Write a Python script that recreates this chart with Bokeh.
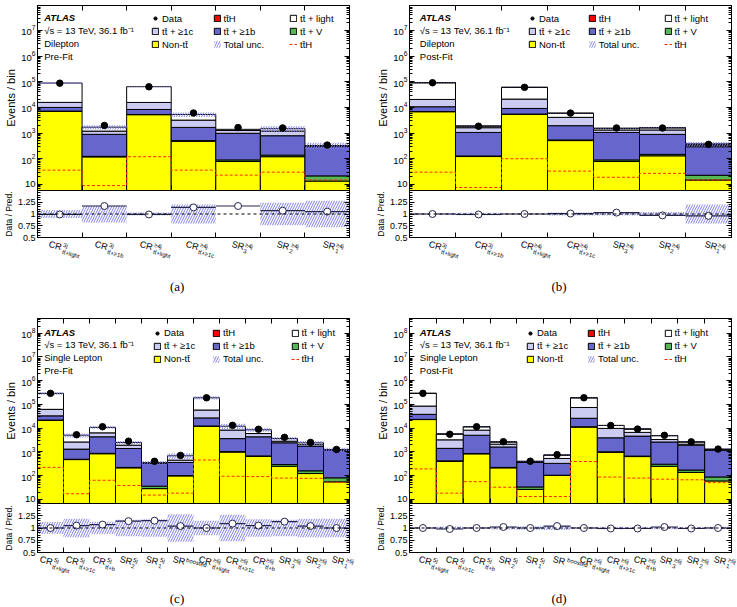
import math
from bokeh.plotting import figure
from bokeh.layouts import row, column
from bokeh.models import (FixedTicker, LogAxis, LinearAxis, Label, Legend, LegendItem, Div,
                          CustomJSTickFormatter, LogTickFormatter, Range1d, Span)
from bokeh.embed import file_html
from bokeh.resources import INLINE

FONT = "Liberation Sans"
TT = "tt\u0304"

# ---------------- region names (main text, superscript, subscript) ----------------
DL_REGIONS = [("CR", "3j", TT + "+light"), ("CR", "3j", TT + "+\u22651b"),
              ("CR", "\u22654j", TT + "+light"), ("CR", "\u22654j", TT + "+\u22651c"),
              ("SR", "\u22654j", "3"), ("SR", "\u22654j", "2"), ("SR", "\u22654j", "1")]
SL_REGIONS = [("CR", "5j", TT + "+light"), ("CR", "5j", TT + "+\u22651c"), ("CR", "5j", TT + "+b"),
              ("SR", "5j", "2"), ("SR", "5j", "1"), ("SR", "boosted", ""),
              ("CR", "\u22656j", TT + "+light"), ("CR", "\u22656j", TT + "+\u22651c"),
              ("CR", "\u22656j", TT + "+b"), ("SR", "\u22656j", "3"), ("SR", "\u22656j", "2"),
              ("SR", "\u22656j", "1")]

# ---------------- dilepton, pre-fit ----------------
dl_pre_nontt = [7100, 118, 5200, 480, 78, 120, 13.5]
dl_pre_ttv = [80, 6, 100, 30, 12, 18, 8]
dl_pre_tt1b = [2800, 770, 3000, 1150, 890, 650, 275]
dl_pre_tt1c = [5700, 300, 7300, 1540, 280, 410, 20]
dl_pre_ttlight = [73000, 500, 48400, 2100, 140, 280, 8]
dl_pre_tth_line = [36, 9, 120, 36, 23, 30, 15]
dl_pre_data = [87790, 1982, 63360, 6042, 1638, 1581, 341]
dl_pre_unc = [0.085, 0.18, 0.03, 0.20, 0.0, 0.24, 0.28]

# ---------------- dilepton, post-fit ----------------
dl_post_nontt = [6800, 122, 5400, 510, 78, 130, 14.8]
dl_post_ttv = [80, 6, 100, 30, 12, 18, 8]
dl_post_tt1b = [3720, 932, 3600, 1400, 970, 742, 272]
dl_post_tt1c = [9800, 560, 12000, 2160, 260, 430, 45]
dl_post_ttlight = [71000, 240, 39200, 1800, 200, 280, 25]
dl_post_tth = [25, 6, 84, 28, 16, 23, 13]
dl_post_tth_line = [30, 7.6, 100, 33, 19, 27, 15]
dl_post_data = [91400, 1847, 60380, 5987, 1582, 1574, 363]
dl_post_unc = [0.015, 0.025, 0.012, 0.03, 0.03, 0.045, 0.2]

# ---------------- single lepton, pre-fit ----------------
sl_pre_nontt = [21500, 470, 830, 210, 28, 96, 12000, 980, 640, 245, 121, 54]
sl_pre_ttv = [400, 15, 30, 10, 7.5, 4, 300, 40, 30, 45, 37, 26]
sl_pre_tt1b = [11000, 815, 3440, 1160, 290, 255, 14700, 2580, 3630, 2110, 1580, 1100]
sl_pre_tt1c = [29000, 1300, 2000, 520, 15, 90, 31000, 4700, 1600, 400, 310, 50]
sl_pre_ttlight = [230000, 2400, 4400, 560, 6, 235, 132000, 3700, 2600, 800, 350, 30]
sl_pre_tth_line = [220, 17, 63, 38, 15, 18, 450, 93, 90, 78, 76, 52]
sl_pre_data = [291900, 5250, 11450, 2804, 398, 707, 190000, 13080, 8925, 4068, 2494, 1260]
sl_pre_unc = [0.12, 0.19, 0.13, 0.17, 0.18, 0.28, 0.15, 0.27, 0.18, 0.17, 0.19, 0.19]

# ---------------- single lepton, post-fit ----------------
sl_post_nontt = [22900, 400, 820, 210, 26, 100, 11100, 960, 630, 245, 135, 59]
sl_post_ttv = [400, 15, 30, 10, 7, 3, 300, 40, 30, 55, 35, 28]
sl_post_tt1b = [14700, 985, 4150, 1380, 322, 222, 14600, 2900, 3940, 2300, 1730, 1100]
sl_post_tt1c = [47000, 1800, 3200, 500, 20, 200, 48000, 5800, 2000, 700, 200, 45]
sl_post_ttlight = [207000, 2400, 3200, 500, 15, 195, 116000, 3200, 2500, 1500, 500, 28]
sl_post_tth = [160, 15, 46, 27, 11, 11, 330, 72, 65, 59, 55, 42]
sl_post_tth_line = [190, 18, 55, 32, 13, 13, 390, 86, 78, 70, 66, 50]
sl_post_data = [292200, 5503, 11450, 2680, 401, 760, 190300, 12840, 9073, 4956, 2628, 1302]
sl_post_unc = [0.02, 0.03, 0.02, 0.03, 0.035, 0.04, 0.02, 0.025, 0.02, 0.025, 0.02, 0.025]

C_NONTT = "#FFFF00"
C_TTV = "#55B855"
C_TT1B = "#6666CC"
C_TT1C = "#CCCCF2"
C_LIGHT = "#FFFFFF"
C_TTH = "#FF0000"
C_HATCH = "#7E7EE6"
C_RATIO = "#26264D"

CHAR_W = {"C": 0.722, "R": 0.722, "S": 0.667}
RATIO_PAD = 4  # room under the ratio frame for its lowest tick label


def style_axis(ax, labels=True, size="9.5px", minor=True, title_size="11px"):
    ax.axis_line_color = "black"
    ax.major_tick_in = 5
    ax.major_tick_out = 0
    ax.minor_tick_in = 3 if minor else 0
    ax.minor_tick_out = 0
    ax.major_tick_line_color = "black"
    ax.minor_tick_line_color = "black"
    ax.major_label_text_font = FONT
    ax.major_label_text_color = "black"
    ax.axis_label_text_font = FONT
    ax.axis_label_text_font_style = "normal"
    ax.axis_label_text_font_size = title_size
    ax.axis_label_text_color = "black"
    ax.axis_label_standoff = 1
    if labels:
        ax.major_label_text_font_size = size
        ax.major_label_standoff = 2
    else:
        ax.major_label_text_font_size = "0px"
        ax.major_label_standoff = 0
        ax.formatter = CustomJSTickFormatter(code="return ''")


def span_html(x, y, text, size, family=FONT, extra=""):
    return ("<span style=\"position:absolute;left:%.1fpx;top:%.1fpx;font-family:'%s',sans-serif;"
            "font-size:%s;line-height:1;white-space:nowrap;color:black;%s\">%s</span>"
            % (x, y, family, size, extra, text))


def make_panel(regions, nontt, ttv, tt1b, tt1c, ttlight, tth, tth_line, data, unc,
               channel, stage, caption, width, left, right, ratio_h, lab_h,
               yr, text_x, text_rows, leg_cols, leg_rows, cap_x, cap_dy):
    n = len(regions)
    edges = list(range(n + 1))
    lefts, rights = edges[:-1], edges[1:]
    ymin, ymax = yr

    main = figure(width=width, height=190, x_range=Range1d(0, n), y_range=Range1d(ymin, ymax),
                  y_axis_type="log", output_backend="svg", toolbar_location=None,
                  min_border_left=left, min_border_right=right, min_border_top=5, min_border_bottom=0)
    main.xgrid.visible = False
    main.ygrid.visible = False
    main.outline_line_color = "black"
    main.outline_line_alpha = 1

    dec_ticks = [10 ** k for k in range(1, 9)]
    dec_minor = [m * 10 ** k for k in range(0, 9) for m in range(2, 10)]
    main.yaxis.ticker = FixedTicker(ticks=dec_ticks, minor_ticks=dec_minor)
    main.yaxis.formatter = LogTickFormatter(min_exponent=1)
    style_axis(main.yaxis[0])
    main.yaxis.major_label_overrides = {10: "10"}
    main.yaxis.axis_label = "Events / bin"
    main.xaxis.ticker = FixedTicker(ticks=edges, minor_ticks=[])
    style_axis(main.xaxis[0], labels=False, minor=False)
    rax = LogAxis(ticker=FixedTicker(ticks=dec_ticks, minor_ticks=dec_minor))
    style_axis(rax, labels=False)
    main.add_layout(rax, "right")
    tax = LinearAxis(ticker=FixedTicker(ticks=edges, minor_ticks=[]))
    style_axis(tax, labels=False, minor=False)
    main.add_layout(tax, "above")

    # stacked backgrounds, bottom to top
    layers = [(nontt, C_NONTT, "Non-" + TT), (ttv, C_TTV, TT + " + V"),
              (tt1b, C_TT1B, TT + " + \u22651b"), (tt1c, C_TT1C, TT + " + \u22651c"),
              (ttlight, C_LIGHT, TT + " + light")]
    if tth is not None:
        layers.append((tth, C_TTH, TT + "H"))
    floor = ymin * 0.1
    cum = [floor] * n
    rend = {}
    first = True
    for vals, col, name in layers:
        top = [v if first else c + v for c, v in zip(cum, vals)]
        first = False
        r = main.quad(left=lefts, right=rights, bottom=cum, top=top, fill_color=col,
                      line_color="black", line_width=1)
        rend[name] = r
        cum = top
    total = cum
    if tth is None:
        # signal not stacked before the fit: swatch kept below the visible range for the key
        rend[TT + "H"] = main.quad(left=[0], right=[1], bottom=[floor * 0.01], top=[floor * 0.02],
                                   fill_color=C_TTH, line_color="black", line_width=1)

    band = main.quad(left=lefts, right=rights,
                     bottom=[t * (1 - u) for t, u in zip(total, unc)],
                     top=[t * (1 + u) for t, u in zip(total, unc)],
                     fill_alpha=0, line_color=None, hatch_pattern="/", hatch_color=C_HATCH,
                     hatch_scale=5, hatch_weight=1)
    dline = main.step(x=edges, y=list(tth_line) + [tth_line[-1]], mode="after",
                      line_color="#FF2A00", line_dash="3 2", line_width=1)
    centers = [i + 0.5 for i in range(n)]
    main.segment(x0=centers, x1=centers, y0=[d - math.sqrt(d) for d in data],
                 y1=[d + math.sqrt(d) for d in data], line_color="black", line_width=1)
    dots = main.scatter(x=centers, y=data, size=6.5, fill_color="black", line_color="black")

    # text block
    texts = [("ATLAS", "bold italic"), ("\u221As = 13 TeV, 36.1 fb\u207b\u00b9", "normal"),
             (channel, "normal"), (stage, "normal")]
    for (t, style), dy in zip(texts, text_rows):
        main.add_layout(Label(x=0, y=ymax, x_offset=text_x, y_offset=-dy, text=t,
                              text_font=FONT, text_font_size="9.5px", text_font_style=style,
                              text_baseline="middle", text_align="left", text_color="black"))

    # legend, three columns
    columns_items = [
        [("Data", dots), (TT + " + \u22651c", rend[TT + " + \u22651c"]), ("Non-" + TT, rend["Non-" + TT])],
        [(TT + "H", rend[TT + "H"]), (TT + " + \u22651b", rend[TT + " + \u22651b"]), ("Total unc.", band)],
        [(TT + " + light", rend[TT + " + light"]), (TT + " + V", rend[TT + " + V"]), (TT + "H", dline)],
    ]
    item_h, spacing = 12, 1
    leg_h = 3 * item_h + 2 * spacing
    for cx, items in zip(leg_cols, columns_items):
        y_loc = 185 - (leg_rows[0] - item_h / 2) - leg_h
        leg = Legend(items=[LegendItem(label=l, renderers=[r]) for l, r in items],
                     location=(cx, y_loc), orientation="vertical", glyph_width=8, glyph_height=8,
                     label_height=item_h, label_standoff=3, spacing=spacing, padding=0, margin=0,
                     border_line_color=None, background_fill_alpha=0,
                     label_text_font=FONT, label_text_font_size="9.5px", label_text_color="black")
        main.add_layout(leg)

    # ratio panel
    ratio = figure(width=width, height=ratio_h + RATIO_PAD, x_range=main.x_range,
                   y_range=Range1d(0.5, 1.5), output_backend="svg", toolbar_location=None,
                   min_border_left=left, min_border_right=right, min_border_top=0,
                   min_border_bottom=RATIO_PAD)
    ratio.xgrid.visible = False
    ratio.ygrid.visible = False
    ratio.outline_line_color = "black"
    ratio.outline_line_alpha = 1
    ratio.yaxis.ticker = FixedTicker(ticks=[0.5, 0.75, 1, 1.25],
                                     minor_ticks=[0.5 + 0.05 * k for k in range(21)])
    ratio.yaxis.formatter = CustomJSTickFormatter(code="return tick.toString()")
    style_axis(ratio.yaxis[0], size="9px", title_size="8.5px")
    ratio.yaxis.axis_label = "Data / Pred."
    ratio.xaxis.ticker = FixedTicker(ticks=edges, minor_ticks=[])
    style_axis(ratio.xaxis[0], labels=False, minor=False)
    rr = LinearAxis(ticker=FixedTicker(ticks=[0.5, 0.75, 1, 1.25],
                                       minor_ticks=[0.5 + 0.05 * k for k in range(21)]))
    style_axis(rr, labels=False)
    ratio.add_layout(rr, "right")

    rvals = [d / t for d, t in zip(data, total)]
    ratio.quad(left=lefts, right=rights, bottom=[1 - u for u in unc], top=[1 + u for u in unc],
               fill_alpha=0, line_color=None, hatch_pattern="/", hatch_color=C_HATCH,
               hatch_scale=5, hatch_weight=1)
    ratio.add_layout(Span(location=1, dimension="width", line_color="black", line_dash="3 3",
                          line_width=1))
    ratio.segment(x0=lefts, x1=rights, y0=rvals, y1=rvals, line_color=C_RATIO, line_width=1.2)
    ratio.scatter(x=centers, y=rvals, size=7, fill_color="white", line_color=C_RATIO, line_width=1)

    # rotated region names and the caption, set as HTML under the ratio panel
    fw = width - left - right
    th = math.radians(15)
    cu, su = math.cos(th), math.sin(th)
    rot = "transform:rotate(15deg);transform-origin:0 0;"
    parts = []
    for i, (mtxt, sup, sub) in enumerate(regions):
        x0 = left + (i + 0.5) * fw / n - 2.5
        y0 = 3.0 - RATIO_PAD
        parts.append(span_html(x0, y0, mtxt, "9px", extra=rot))
        w = sum(CHAR_W.get(ch, 0.6) for ch in mtxt) * 9 + 1.0
        for t, h in ((sup, 1.5), (sub, -5.0)):
            if not t:
                continue
            parts.append(span_html(x0 + w * cu + h * su, y0 + w * su - h * cu, t, "6px", extra=rot))
    parts.append(span_html(left + cap_x * fw / n, cap_dy - RATIO_PAD, caption, "13px",
                           family="Liberation Serif", extra="transform:translate(-50%,-50%);"))
    html = ("<div style=\"position:relative;width:%dpx;height:%dpx;overflow:visible;\">%s</div>"
            % (width, lab_h - RATIO_PAD, "".join(parts)))
    lab = Div(text=html, width=width, height=lab_h - RATIO_PAD, margin=0,
              styles={"padding": "0px", "margin": "0px", "overflow": "visible"})
    return column(main, ratio, lab)


DL_RANGE = (5.8, 9.3e7)
SL_RANGE = (6.6, 4.2e8)

pa = make_panel(DL_REGIONS, dl_pre_nontt, dl_pre_ttv, dl_pre_tt1b, dl_pre_tt1c, dl_pre_ttlight,
                None, dl_pre_tth_line, dl_pre_data, dl_pre_unc, "Dilepton", "Pre-Fit", "(a)",
                370, 30, 21, 47, 76, DL_RANGE, 6.7, [11.7, 24.5, 37.5, 50.5],
                [114, 175.5, 252], [13.3, 25.7, 38.3], 3.23, 49)
pb = make_panel(DL_REGIONS, dl_post_nontt, dl_post_ttv, dl_post_tt1b, dl_post_tt1c, dl_post_ttlight,
                dl_post_tth, dl_post_tth_line, dl_post_data, dl_post_unc, "Dilepton", "Post-Fit", "(b)",
                367, 39, 6, 47, 76, DL_RANGE, 10.3, [11.7, 24.5, 37.5, 50.5],
                [119, 178.7, 254.5], [13.3, 25.7, 38.3], 3.26, 49)
pc = make_panel(SL_REGIONS, sl_pre_nontt, sl_pre_ttv, sl_pre_tt1b, sl_pre_tt1c, sl_pre_ttlight,
                None, sl_pre_tth_line, sl_pre_data, sl_pre_unc, "Single Lepton", "Pre-Fit", "(c)",
                370, 30, 21, 49, 55, SL_RANGE, 6.7, [13.7, 26.3, 39, 52],
                [116, 175, 253.5], [14.7, 27, 39.7], 5.53, 46)
pd = make_panel(SL_REGIONS, sl_post_nontt, sl_post_ttv, sl_post_tt1b, sl_post_tt1c, sl_post_ttlight,
                sl_post_tth, sl_post_tth_line, sl_post_data, sl_post_unc, "Single Lepton", "Post-Fit", "(d)",
                367, 39, 6, 49, 55, SL_RANGE, 10.3, [13.7, 26.3, 39, 52],
                [117, 178, 254.5], [14.7, 27, 39.7], 5.59, 46)

layout = column(row(pa, pb), row(pc, pd))
open("out.html", "w").write(file_html(layout, INLINE))
